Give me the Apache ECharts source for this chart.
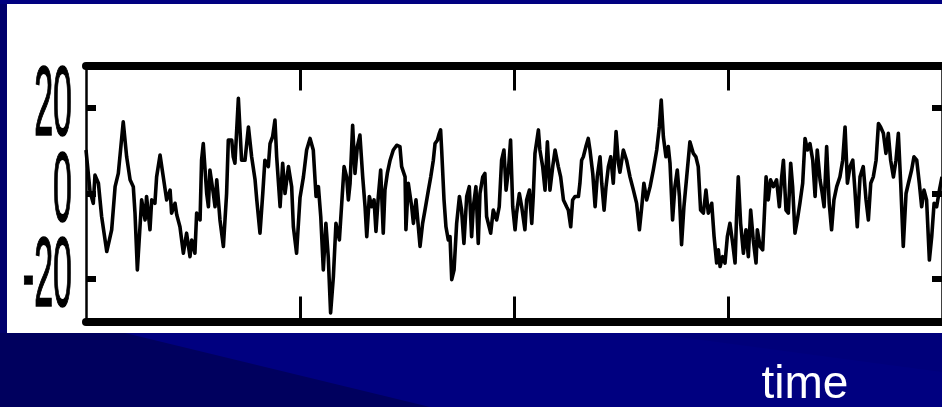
<!DOCTYPE html>
<html>
<head>
<meta charset="utf-8">
<script src="https://cdn.jsdelivr.net/npm/echarts@6/dist/echarts.min.js"></script>
<style>
  html, body { margin: 0; padding: 0; background: #000080; }
  #chart { width: 942px; height: 407px; }
</style>
</head>
<body>
<div id="chart"></div>
<script>
// Recorded signal, as [time, amplitude] pairs, split into three stretches.
const samplesA = [
  [0.000,10.2],[0.019,0.4],[0.034,-2.3],[0.042,4.3],[0.058,2.4],[0.073,-5.4],[0.097,-13.6],[0.120,-8.5],
  [0.136,1.6],[0.151,4.7],[0.174,16.8],[0.190,8.6],[0.206,3.2],[0.221,1.6],[0.229,-4.6],[0.240,-17.9],
  [0.260,-1.5],[0.276,-6.2],[0.283,-0.7],[0.299,-8.5],[0.307,-1.5],[0.322,-2.3],[0.330,3.9],[0.346,9.0],
  [0.361,3.9],[0.377,-1.5],[0.393,0.8],[0.400,-4.6],[0.416,-2.3],[0.424,-5.0],[0.439,-7.8],[0.455,-14.0],
  [0.470,-9.3],[0.486,-14.8],[0.494,-10.9],[0.509,-14.0],[0.517,-4.6],[0.533,-6.2],[0.540,7.8],[0.548,11.7],
  [0.564,0.0],[0.572,-3.1],[0.579,5.5],[0.595,0.0],[0.603,-3.1],[0.611,3.2],[0.626,-6.2],[0.642,-12.4],
  [0.657,0.0],[0.665,12.5],[0.681,12.5],[0.688,8.6],[0.696,7.1],[0.712,22.3],[0.727,7.8],[0.743,7.8],
  [0.759,15.6],[0.774,8.6],[0.790,3.2],[0.798,-1.5],[0.813,-9.3],[0.826,0.0],[0.836,7.8],[0.852,6.3],
  [0.860,11.7],[0.872,13.3],[0.883,17.2],[0.891,8.6],[0.907,-3.1],[0.919,7.1],[0.930,0.0],[0.946,6.3],
  [0.961,1.6],[0.969,-7.8],[0.984,-14.0],[1.000,-1.0]
];
const samplesB = [
  [1.016,3.9],[1.031,10.2],[1.047,12.9],[1.062,10.2],[1.075,-0.7],[1.086,1.6],[1.097,-5.4],[1.109,-17.9],
  [1.121,-7.0],[1.132,-14.8],[1.143,-28.0],[1.156,-19.5],[1.168,-7.0],[1.184,-10.9],[1.195,-2.3],[1.206,6.3],
  [1.218,3.9],[1.226,-1.5],[1.234,2.4],[1.246,16.0],[1.257,4.7],[1.268,11.0],[1.280,13.7],[1.293,3.9],
  [1.304,-3.1],[1.312,-10.1],[1.324,-0.7],[1.335,-3.1],[1.346,-1.5],[1.355,-8.9],[1.366,-0.7],[1.377,5.5],
  [1.389,-9.3],[1.397,0.8],[1.408,4.7],[1.421,7.8],[1.436,10.2],[1.452,11.3],[1.467,11.0],[1.475,6.3],
  [1.491,3.9],[1.495,-8.5],[1.506,2.4],[1.522,-3.1],[1.530,-7.0],[1.542,-1.5],[1.553,-7.8],[1.561,-12.4],
  [1.573,-7.0],[1.584,-3.9],[1.600,0.8],[1.611,3.9],[1.623,7.8],[1.631,11.7],[1.642,12.5],[1.651,14.1],
  [1.657,14.9],[1.662,10.2],[1.673,-1.5],[1.682,-7.8],[1.693,-10.9],[1.701,-10.1],[1.709,-20.2],[1.720,-17.9],
  [1.732,-7.0],[1.745,-0.7],[1.755,-3.9],[1.766,-11.7],[1.779,-0.7],[1.791,1.6],[1.802,-10.1],[1.810,-3.1],
  [1.822,1.6],[1.833,-11.7],[1.841,0.0],[1.854,3.9],[1.864,4.7],[1.872,-5.4],[1.880,-5.4],[1.891,-9.3],
  [1.903,-3.9],[1.919,-6.2],[1.931,-3.1],[1.942,7.8],[1.953,10.2],[1.963,0.8],[1.974,5.5],[1.984,12.5],
  [1.994,-3.1],[2.005,-8.5],[2.012,-4.6],[2.025,0.0],[2.036,-3.1],[2.051,-8.5],[2.059,-1.5],[2.072,0.8],
  [2.083,-7.0],[2.090,-0.7],[2.098,9.4],[2.114,14.9],[2.121,10.2],[2.134,6.3],[2.145,0.8],[2.156,12.1],
  [2.168,0.8],[2.181,6.3],[2.192,10.2],[2.207,6.3],[2.218,3.9],[2.231,-1.5],[2.246,-3.1],[2.254,-3.9],
  [2.265,-7.8],[2.274,-1.5],[2.285,-0.7],[2.301,-0.7],[2.308,2.4],[2.316,7.8],[2.324,8.6],[2.336,11.0],
  [2.347,12.9],[2.355,10.2],[2.368,4.7],[2.379,-3.1],[2.389,3.9],[2.402,8.6],[2.410,2.4],[2.421,-3.9],
  [2.430,1.6],[2.441,6.3],[2.452,8.6],[2.464,2.4],[2.477,14.5],[2.488,7.1],[2.495,5.0]
];
const samplesC = [
  [2.511,10.2],[2.526,7.8],[2.542,3.9],[2.558,0.8],[2.573,-2.3],[2.586,-8.5],[2.597,-3.1],[2.607,2.4],
  [2.620,-1.5],[2.636,1.6],[2.651,5.5],[2.667,10.2],[2.679,15.6],[2.688,21.9],[2.698,13.3],[2.710,8.6],
  [2.721,11.0],[2.729,7.1],[2.741,-6.2],[2.752,1.6],[2.763,5.5],[2.773,-0.7],[2.783,-12.0],[2.794,-3.1],
  [2.807,3.9],[2.822,12.1],[2.838,9.4],[2.850,8.6],[2.861,6.3],[2.872,-3.9],[2.885,-4.6],[2.897,0.8],
  [2.908,-4.6],[2.924,-2.3],[2.935,-10.1],[2.947,-16.3],[2.955,-13.2],[2.963,-17.1],[2.975,-14.8],[2.986,-16.3],
  [2.997,-10.1],[3.009,-7.0],[3.022,-11.7],[3.033,-16.3],[3.040,-5.4],[3.048,3.9],[3.059,-7.0],[3.072,-14.0],
  [3.084,-8.5],[3.095,-14.8],[3.106,-3.9],[3.118,-10.9],[3.131,-16.3],[3.137,-8.5],[3.150,-12.4],[3.162,-13.2],
  [3.168,-7.0],[3.178,3.9],[3.188,-1.5],[3.199,3.2],[3.212,1.6],[3.227,3.2],[3.240,-3.1],[3.251,3.9],
  [3.259,7.8],[3.271,-3.9],[3.282,-4.6],[3.293,7.1],[3.302,1.6],[3.313,-9.3],[3.324,-6.2],[3.336,-2.3],
  [3.349,2.4],[3.360,12.9],[3.371,10.2],[3.383,11.7],[3.396,7.8],[3.407,-0.7],[3.417,10.2],[3.430,3.2],
  [3.438,0.8],[3.449,-3.1],[3.461,11.0],[3.473,-2.3],[3.484,-8.5],[3.495,-1.5],[3.508,1.6],[3.523,3.9],
  [3.536,7.8],[3.547,15.6],[3.558,2.4],[3.570,6.3],[3.583,7.8],[3.593,0.8],[3.604,-7.8],[3.617,3.9],
  [3.632,6.3],[3.645,-1.5],[3.656,-6.2],[3.667,2.4],[3.679,3.9],[3.692,7.8],[3.703,16.4],[3.713,15.6],
  [3.726,14.1],[3.738,9.4],[3.749,14.1],[3.760,7.8],[3.773,3.9],[3.785,7.8],[3.796,14.1],[3.807,2.4],
  [3.819,-12.4],[3.832,0.0],[3.843,2.4],[3.858,5.5],[3.869,8.6],[3.882,7.8],[3.894,2.4],[3.905,-3.1],
  [3.916,0.8],[3.928,-1.5],[3.941,-15.6],[3.952,-10.1],[3.963,-2.3],[3.975,-3.1],[3.988,0.8],[4.000,3.9]
];

const timeTicks = [1, 2, 3];
const amplitudeTicks = [-20, 0, 20];
const amplitudeTickLabels = ['-20', '0', '20'];
const timeLabel = 'time';

const chart = echarts.init(document.getElementById('chart'));
const trace = samplesA.concat(samplesB, samplesC);

// Boxed frame: thick horizontal edges, thin vertical edges, ticks pointing inward.
function timeAxis(position) {
  return {
    type: 'value', position: position, min: 0, max: 4, interval: 1,
    axisLine: { show: true, onZero: false, lineStyle: { color: '#000', width: 8 } },
    axisTick: { show: true, inside: true, length: 25, customValues: timeTicks,
                lineStyle: { color: '#000', width: 3 } },
    axisLabel: { show: false },
    splitLine: { show: false }
  };
}
function amplitudeAxis(position) {
  return {
    type: 'value', position: position, min: -30, max: 30, interval: 10,
    axisLine: { show: true, onZero: false, lineStyle: { color: '#000', width: 2.5 } },
    axisTick: { show: true, inside: true, length: 10, customValues: amplitudeTicks,
                lineStyle: { color: '#000', width: 6 } },
    axisLabel: { show: false },
    splitLine: { show: false }
  };
}

const backdrop = [
  { type: 'polygon', z: -20, shape: { points: [[0, 333], [125, 333], [430, 407], [0, 407]] },
    style: { fill: '#00005e' } },
  { type: 'polygon', z: -20, shape: { points: [[650, 333], [942, 333], [942, 372]] },
    style: { fill: '#00007a' } },
  { type: 'rect', z: -20, shape: { x: 0, y: 4, width: 7, height: 329 }, style: { fill: '#00006c' } },
  { type: 'rect', z: -10, shape: { x: 7, y: 4, width: 935, height: 329 }, style: { fill: '#ffffff' } }
];

chart.setOption({
  animation: false,
  backgroundColor: '#000080',
  grid: { left: 86, right: 0, top: 65.5, bottom: 85.5, containLabel: false },
  xAxis: [timeAxis('bottom'), timeAxis('top')],
  yAxis: [amplitudeAxis('left'), amplitudeAxis('right')],
  graphic: backdrop,
  series: [{
    type: 'line',
    data: trace,
    xAxisIndex: 0,
    yAxisIndex: 0,
    showSymbol: false,
    lineStyle: { color: '#000', width: 3.6, join: 'round' },
    z: 3
  }]
});

// Tall, narrow tick labels beside the left edge, and the white axis title below.
const labelGraphics = amplitudeTicks.map(function (v, i) {
  const py = chart.convertToPixel({ yAxisIndex: 0 }, v);
  return {
    type: 'text', z: 20, x: 72, y: py, scaleY: 2.9,
    style: { text: amplitudeTickLabels[i], font: '34px "Liberation Sans"', fill: '#000',
             stroke: '#000', lineWidth: 0.6,
             align: 'right', verticalAlign: 'middle' }
  };
});
labelGraphics.push({
  type: 'text', z: 20, x: 805, y: 385,
  style: { text: timeLabel, font: '46px "Liberation Sans"', fill: '#ffffff',
           align: 'center', verticalAlign: 'middle' }
});

chart.setOption({ graphic: backdrop.concat(labelGraphics) });
</script>
</body>
</html>
